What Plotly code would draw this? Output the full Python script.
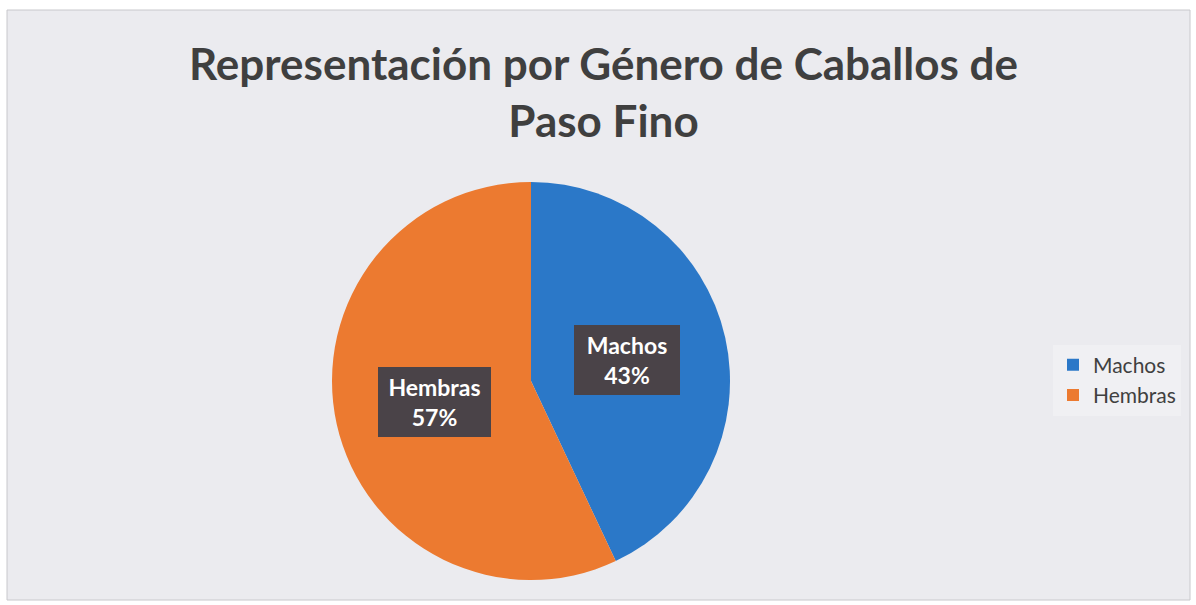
import math
import plotly.graph_objects as go

categories = ["Machos", "Hembras"]
values = [43, 57]
colors = ["#2b78c8", "#ec7a30"]
title_lines = ["Representación por Género de Caballos de", "Paso Fino"]

W, H = 1196, 605
dom_x = [332 / W, 730 / W]
dom_y = [1 - 580 / H, 1 - 182 / H]

fig = go.Figure()
fig.add_trace(go.Pie(
    labels=categories, values=values, sort=False, direction="clockwise",
    rotation=0, marker=dict(colors=colors, line=dict(width=0)),
    textinfo="none", hoverinfo="label+percent",
    domain=dict(x=dom_x, y=dom_y), showlegend=True,
))

# label boxes placed along each slice's mid-angle
cx = (dom_x[0] + dom_x[1]) / 2 * W
cy = (1 - (dom_y[0] + dom_y[1]) / 2) * H
R = (dom_x[1] - dom_x[0]) * W / 2
total = sum(values)
box_w = {"Machos": 94, "Hembras": 101}
glow = {"Machos": "rgba(0,0,0,0)", "Hembras": "#f39040"}
cum = 0
for lab, v in zip(categories, values):
    mid = (cum + v / 2) / total * 2 * math.pi
    cum += v
    rr = 0.495 * R
    px = cx + rr * math.sin(mid)
    py = cy - rr * math.cos(mid)
    pct = round(100 * v / total)
    fig.add_annotation(
        x=px / W, y=1 - py / H, xref="paper", yref="paper",
        xanchor="center", yanchor="middle",
        text=f"<b>{lab}<br>{pct}%</b>", showarrow=False,
        font=dict(family="Lato", size=23, color="white"),
        bgcolor="#4a4348", borderpad=6, align="center",
        bordercolor=glow[lab], borderwidth=0,
        width=box_w[lab], height=58,
    )

fig.add_annotation(
    x=603 / W, y=1 - 91 / H, xref="paper", yref="paper",
    xanchor="center", yanchor="middle",
    text="<b>" + "<br>".join(title_lines) + "</b>", showarrow=False,
    font=dict(family="Lato", size=44, color="#3f3f3f"), align="center",
)

fig.add_shape(type="rect", xref="paper", yref="paper",
              x0=7 / W, x1=1190 / W, y0=1 - 600 / H, y1=1 - 10 / H,
              line=dict(color="#c8c8cc", width=1), fillcolor="#ebebef", layer="below")

fig.update_layout(
    width=W, height=H, margin=dict(l=0, r=0, t=0, b=0),
    paper_bgcolor="white", plot_bgcolor="white",
    legend=dict(x=1053 / W, y=1 - 380 / H, xanchor="left", yanchor="middle",
                font=dict(family="Lato", size=21, color="#404040"),
                bgcolor="#f0f0f3", borderwidth=0),
)

fig.write_html("out.html", config={"displayModeBar": False},
               post_script="document.body.style.margin='0';")
